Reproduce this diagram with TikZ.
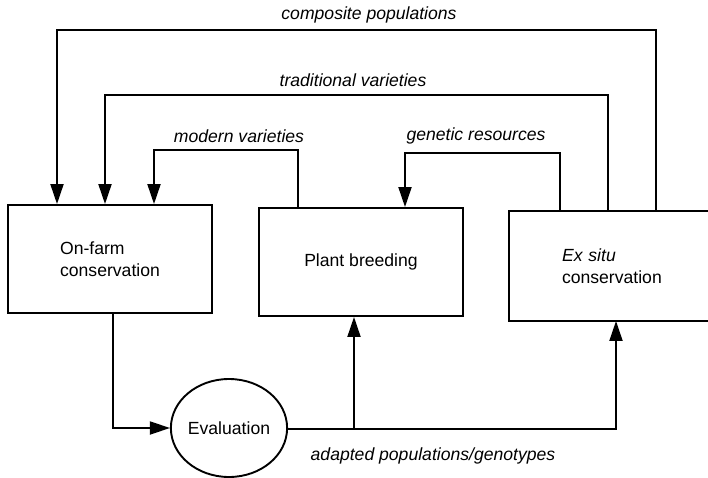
\documentclass[tikz,border=0pt]{standalone}
\usepackage{fontspec}
\setmainfont{Liberation Sans}
\usetikzlibrary{arrows.meta, shapes.geometric}

\tikzset{
  box/.style={draw, line width=1.9pt, minimum width=204pt, minimum height=108pt,
    inner sep=0pt, align=left, font=\fontsize{17.6}{22}\selectfont},
  lbl/.style={font=\fontsize{17.6}{20}\selectfont\itshape, inner sep=0pt},
  arr/.style={-{Triangle[length=20pt, width=13pt]}},
}

\begin{document}
\begin{tikzpicture}[x=1pt, y=-1pt, line width=1.9pt]
  \useasboundingbox (0,0) rectangle (708,478);
  \clip (0,0) rectangle (708,478);

  \node[box] (farm)   at (110, 259) {On-farm\\conservation};
  \node[box] (breed)  at (361, 262) {Plant breeding};
  \node[box, draw=none, text width=160pt, inner xsep=52pt] (exsitu) at (642, 266)
    {\textit{Ex situ}\\conservation};
  % box runs off the right edge of the page
  \draw (exsitu.north east) -| (exsitu.south west) -- (exsitu.south east);
  \node[draw, ellipse, minimum width=115pt, minimum height=98pt, inner sep=0pt,
    font=\fontsize{17.6}{20}\selectfont] (eval) at (229, 428) {Evaluation};

  % routes over the top
  \coordinate (cpR) at (656, 30);
  \coordinate (cpL) at (57, 30);
  \coordinate (tvR) at (608, 95);
  \coordinate (tvL) at (105, 95);
  \coordinate (mvR) at (298, 150);
  \coordinate (mvL) at (154, 150);
  \coordinate (grR) at (560, 153);
  \coordinate (grL) at (405, 153);

  \draw[arr] (exsitu.north -| cpR) -- (cpR) -- (cpL) -- (farm.north -| cpL);
  \draw[arr] (exsitu.north -| tvR) -- (tvR) -- (tvL) -- (farm.north -| tvL);
  \draw[arr] (breed.north -| mvR) -- (mvR) -- (mvL) -- (farm.north -| mvL);
  \draw[arr] (exsitu.north -| grR) -- (grR) -- (grL) -- (breed.north -| grL);

  \node[lbl] (cplbl) at (369, 15)  {composite populations};
  \node[lbl] (tvlbl) at (353, 80)  {traditional varieties};
  \node[lbl] (mvlbl) at (239, 136) {modern varieties};
  \node[lbl] (grlbl) at (476, 136) {genetic resources};

  % evaluation loop
  \coordinate (ev) at (113, 428);
  \coordinate (brk) at (354, 429);
  \coordinate (adR) at (616, 429);

  \draw[arr] (farm.south -| ev) -- (ev) -- (eval.west);
  \draw[arr] (eval.east |- adR) -- (adR) -- (exsitu.south -| adR);
  \draw[arr] (brk) -- (breed.south -| brk);

  \node[lbl] (adlbl) at (433, 456) {adapted populations/genotypes};
\end{tikzpicture}
\end{document}
